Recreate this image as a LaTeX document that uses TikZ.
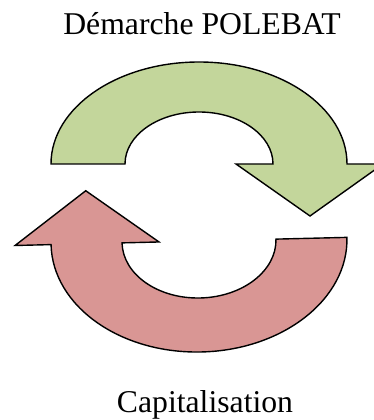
\documentclass[tikz,border=0pt]{standalone}
\usepackage{fontspec}
\setmainfont{Liberation Serif}

\definecolor{cyclegreen}{HTML}{C3D69B}
\definecolor{cyclered}{HTML}{D99694}

\begin{document}
\begin{tikzpicture}[
x=1pt, y=1pt,
titletext/.style={
font=\fontsize{31.7}{38}\selectfont,
inner sep=0pt,
anchor=base
},
cyclearrow/.style={draw=black, line width=1.4pt, line join=miter},
greenarrow/.style={cyclearrow, fill=cyclegreen},
redarrow/.style={cyclearrow, fill=cyclered}
]
\useasboundingbox (0,0) rectangle (374,420);
\clip (0,0) rectangle (374,420);

\node[titletext] (demarche) at (202,385) {Démarche POLEBAT};
\node[titletext] (capitalisation) at (205,8) {Capitalisation};

% upper arrow
\draw[greenarrow] (51,256)
  arc[start angle=180, end angle=0, x radius=148, y radius=102]
  -- (383,256) -- (310,204) -- (236,256) -- (273,256)
  arc[start angle=0, end angle=180, x radius=74, y radius=52]
  -- cycle;

% lower arrow
\begin{scope}[rotate around={1.4:(199,179)}]
\draw[redarrow] (276,179)
  arc[start angle=0, end angle=-180, x radius=77, y radius=57]
  -- (159,179) -- (87,232) -- (15,179) -- (51,179)
  arc[start angle=180, end angle=360, x radius=148, y radius=111]
  -- cycle;
\end{scope}

\end{tikzpicture}
\end{document}
